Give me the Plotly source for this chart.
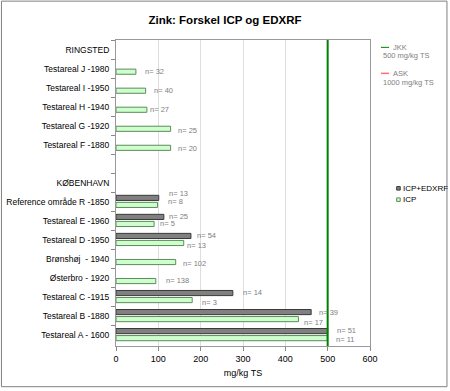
import plotly.graph_objects as go

title = "Zink: Forskel ICP og EDXRF"
categories = ["RINGSTED", "Testareal J -1980", "Testareal I -1950", "Testareal H -1940",
              "Testareal G -1920", "Testareal F -1880", " ", "KØBENHAVN",
              "Reference område R -1850", "Testareal E -1960", "Testareal D -1950",
              "Brønshøj  - 1940", "Østerbro - 1920", "Testareal C -1915",
              "Testareal B -1880", "Testareal A - 1600"]
icp_edxrf = [None, None, None, None, None, None, None, None,
             101, 113, 177, None, None, 276, 461, 500]
icp = [None, 47, 70, 73, 129, 129, None, None,
       98, 90, 160, 141, 94, 180, 431, 499]
n_edxrf = [None, None, None, None, None, None, None, None,
           13, 25, 54, None, None, 14, 39, 51]
n_icp = [None, 32, 40, 27, 25, 20, None, None,
         8, 5, 13, 102, 138, 3, 17, 11]
# label offsets (px) to the right of bar ends, and vertical shifts (px, down positive)
dx_edxrf = [0, 0, 0, 0, 0, 0, 0, 0, 8, 3, 4, 0, 0, 8, 6, 7]
dy_edxrf = [0, 0, 0, 0, 0, 0, 0, 0, -4, 0, 0, 0, 0, 0, 1, 0]
dx_icp = [0, 7, 6, 1, 5, 5, 0, 0, 9, 4, 1, 5, 8, 8, 4, 7]
dy_icp = [0, 0, 0, 0, 2, 1, 0, 0, -3, 0, 3, 2, 0, 3, 4, 1]
jkk_limit = 500
x_ticks = [0, 100, 200, 300, 400, 500, 600]

FONT = "Liberation Sans, Arial, sans-serif"

fig = go.Figure()
fig.add_trace(go.Bar(
    y=categories, x=icp_edxrf, orientation="h", name="ICP+EDXRF",
    marker=dict(color="#808080", line=dict(color="#3a3a3a", width=1)),
    width=0.27, offset=-0.34, showlegend=False, hoverinfo="x+name"))
fig.add_trace(go.Bar(
    y=categories, x=icp, orientation="h", name="ICP",
    marker=dict(color="#ccffcc", line=dict(color="#5f8a5f", width=1)),
    width=0.27, offset=0.03, showlegend=False, hoverinfo="x+name"))

ann = []
lab = dict(family=FONT, size=7.5, color="#808080")
for i, c in enumerate(categories):
    if n_edxrf[i] is not None:
        ann.append(dict(x=icp_edxrf[i], y=c, text=f"n= {n_edxrf[i]}", xref="x", yref="y",
                        xanchor="left", yanchor="middle", showarrow=False,
                        xshift=dx_edxrf[i], yshift=-(dy_edxrf[i]) + 4.5, font=lab))
    if n_icp[i] is not None:
        ann.append(dict(x=icp[i], y=c, text=f"n= {n_icp[i]}", xref="x", yref="y",
                        xanchor="left", yanchor="middle", showarrow=False,
                        xshift=dx_icp[i], yshift=-(dy_icp[i]) - 3, font=lab))

small = dict(family=FONT, size=7.5, color="#808080")
ann += [
    dict(x=1.081, y=0.976, xref="paper", yref="paper", text="JKK", showarrow=False,
         xanchor="left", yanchor="middle", font=small),
    dict(x=1.043, y=0.948, xref="paper", yref="paper", text="500 mg/kg TS", showarrow=False,
         xanchor="left", yanchor="middle", font=small),
    dict(x=1.081, y=0.891, xref="paper", yref="paper", text="ASK", showarrow=False,
         xanchor="left", yanchor="middle", font=small),
    dict(x=1.043, y=0.862, xref="paper", yref="paper", text="1000 mg/kg TS", showarrow=False,
         xanchor="left", yanchor="middle", font=small),
    dict(x=1.121, y=0.515, xref="paper", yref="paper", text="ICP+EDXRF", showarrow=False,
         xanchor="left", yanchor="middle", font=dict(family=FONT, size=8, color="#000000")),
    dict(x=1.121, y=0.478, xref="paper", yref="paper", text="ICP", showarrow=False,
         xanchor="left", yanchor="middle", font=dict(family=FONT, size=8, color="#000000")),
]

shapes = [
    dict(type="line", xref="x", yref="paper", x0=jkk_limit, x1=jkk_limit, y0=0, y1=1,
         line=dict(color="#008000", width=2)),
    dict(type="line", xref="paper", yref="paper", x0=1.043, x1=1.075, y0=0.976, y1=0.976,
         line=dict(color="#008000", width=1)),
    dict(type="line", xref="paper", yref="paper", x0=1.043, x1=1.075, y0=0.891, y1=0.891,
         line=dict(color="#ff7070", width=1.5)),
    dict(type="rect", xref="paper", yref="paper", x0=1.105, x1=1.119, y0=0.5095, y1=0.521,
         fillcolor="#808080", line=dict(color="#3a3a3a", width=1)),
    dict(type="rect", xref="paper", yref="paper", x0=1.105, x1=1.119, y0=0.4725, y1=0.484,
         fillcolor="#ccffcc", line=dict(color="#5f8a5f", width=1)),
    dict(type="rect", xref="paper", yref="paper", x0=-0.451, x1=1.303, y0=-0.133, y1=1.127,
         line=dict(color="#808080", width=1), layer="below"),
]

fig.update_layout(
    width=450, height=391,
    margin=dict(l=116, r=80, t=40, b=45, autoexpand=False),
    paper_bgcolor="white", plot_bgcolor="white",
    title=dict(text=f"<b>{title}</b>", x=0.5, xanchor="center", y=0.949, yanchor="middle",
               font=dict(family=FONT, size=11.5, color="#000000")),
    barmode="overlay",
    font=dict(family=FONT, size=9, color="#000000"),
    annotations=ann, shapes=shapes,
    xaxis=dict(range=[0, 600], tickvals=x_ticks, showgrid=True, gridcolor="#dedede",
               zeroline=False, showline=True, linecolor="#999999", mirror=True,
               ticks="outside", ticklen=4, tickcolor="#888888", automargin=False,
               tickfont=dict(family=FONT, size=9, color="#000000"),
               title=dict(text="mg/kg TS", standoff=6, font=dict(family=FONT, size=9))),
    yaxis=dict(categoryorder="array", categoryarray=categories, autorange="reversed",
               showgrid=False, showline=True, linecolor="#999999", mirror=True,
               ticks="outside", ticklen=4, tickcolor="#888888", tickson="boundaries",
               automargin=False, ticklabelstandoff=4,
               tickfont=dict(family=FONT, size=8.5, color="#000000")),
)

fig.write_html("out.html", config={"displayModeBar": False},
               post_script="document.body.style.margin='0';document.body.style.overflow='hidden';")
